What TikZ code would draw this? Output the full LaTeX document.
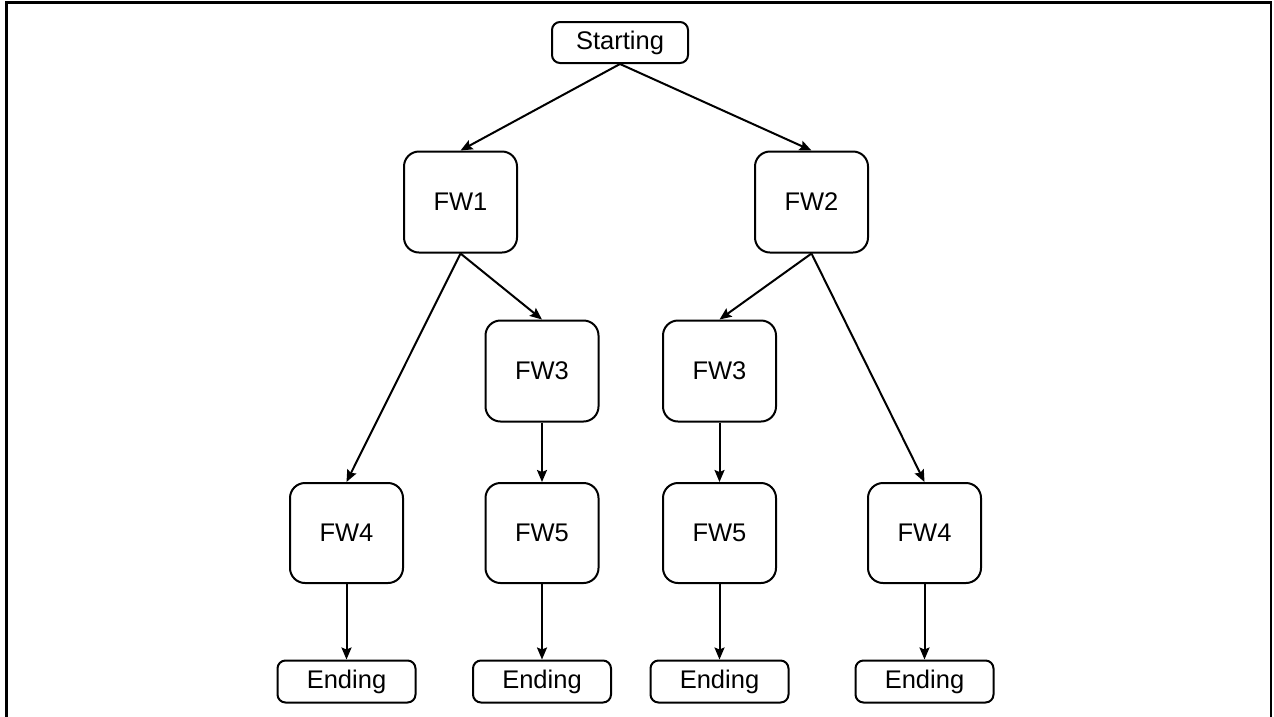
\documentclass[tikz,border=0pt]{standalone}
\usepackage{fontspec}
\setmainfont{Liberation Sans}
\usetikzlibrary{arrows.meta}
\begin{document}
\begin{tikzpicture}[x=1pt,y=-1pt,
  every node/.style={font=\fontsize{25.5}{30}\selectfont},
  fwbox/.style={draw,line width=2pt,rounded corners=15pt,minimum width=113pt,minimum height=101pt,inner sep=0pt},
  endbox/.style={draw,line width=2pt,rounded corners=8pt,minimum width=138pt,minimum height=42pt,inner sep=0pt},
  link/.style={line width=2pt,-{Stealth[length=12pt,width=10pt,inset=2pt]}}]
\useasboundingbox (0,0) rectangle (1274,716);
% open frame around the tree
\draw[line width=2.5pt] (6.5,720) -- (6.5,2.5) -- (1271,2.5) -- (1271,720);
% nodes
\node[endbox,minimum width=136pt,minimum height=41pt] (start) at (620,42.5) {Starting};
\node[fwbox] (fw1) at (460.5,202) {FW1};
\node[fwbox] (fw2) at (811.5,202) {FW2};
\node[fwbox] (fw3a) at (542,371) {FW3};
\node[fwbox] (fw3b) at (719.5,371) {FW3};
\node[fwbox,minimum height=100pt] (fw4a) at (346.5,533) {FW4};
\node[fwbox,minimum height=100pt] (fw5a) at (542,533) {FW5};
\node[fwbox,minimum height=100pt] (fw5b) at (719.5,533) {FW5};
\node[fwbox,minimum height=100pt] (fw4b) at (924.5,533) {FW4};
\node[endbox] (end1) at (346.5,681.5) {Ending};
\node[endbox] (end2) at (542,681.5) {Ending};
\node[endbox] (end3) at (719.5,681.5) {Ending};
\node[endbox] (end4) at (924.5,681.5) {Ending};
% connectors
\draw[link] (start.south) -- (fw1.north);
\draw[link] (start.south) -- (fw2.north);
\draw[link] (fw1.south) -- (fw4a.north);
\draw[link] (fw1.south) -- (fw3a.north);
\draw[link] (fw2.south) -- (fw3b.north);
\draw[link] (fw2.south) -- (fw4b.north);
\draw[link] (fw3a.south) -- (fw5a.north);
\draw[link] (fw3b.south) -- (fw5b.north);
\draw[link] (fw4a.south) -- (end1.north);
\draw[link] (fw5a.south) -- (end2.north);
\draw[link] (fw5b.south) -- (end3.north);
\draw[link] (fw4b.south) -- (end4.north);
\end{tikzpicture}
\end{document}
